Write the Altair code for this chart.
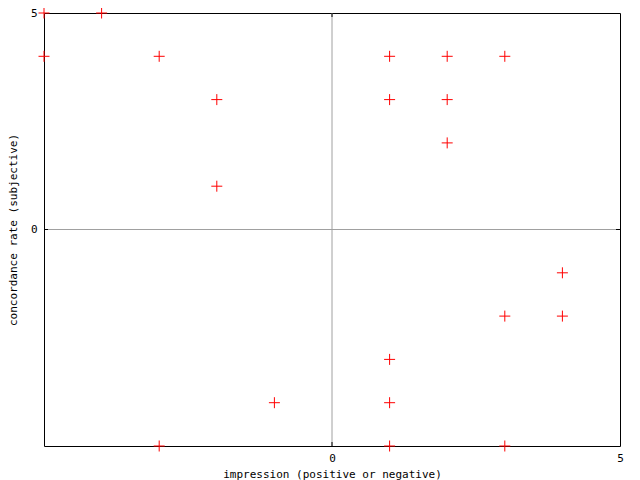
import altair as alt
import pandas as pd

xs = [-5, -4, -5, -3, -2, -2, 1, 2, 3, 1, 2, 2, 4, 3, 4, 1, 1, -1, 1, -3, 3]
ys = [5, 5, 4, 4, 3, 1, 4, 4, 4, 3, 3, 2, -1, -2, -2, -3, -4, -4, -5, -5, -5]
x_tick_labels = [0, 5]
y_tick_labels = [0, 5]

df = pd.DataFrame({"x": xs, "y": ys})
FONT = "DejaVu Sans Mono"

xscale = alt.Scale(domain=[-5, 5], nice=False, zero=False)
yscale = alt.Scale(domain=[-5, 5], nice=False, zero=False)

xaxis = alt.Axis(values=x_tick_labels, title="impression (positive or negative)",
                 format="d",
                 domain=False, grid=False, ticks=False, labelPadding=6,
                 labelFont=FONT, labelFontSize=11, labelColor="black",
                 titleFont=FONT, titleFontSize=11, titleFontWeight="normal",
                 titleColor="black", titlePadding=5, labelFlush=False)
yaxis = alt.Axis(values=y_tick_labels, title="concordance rate (subjective)",
                 format="d",
                 domain=False, grid=False, ticks=False, labelPadding=7,
                 labelFont=FONT, labelFontSize=11, labelColor="black",
                 titleFont=FONT, titleFontSize=11, titleFontWeight="normal",
                 titleColor="black", titlePadding=12, labelFlush=False)

zero_df = pd.DataFrame({"v": [0]})

vzero = alt.Chart(zero_df).mark_rule(color="#a0a0a0", strokeWidth=1).encode(
    x=alt.X("v:Q", scale=xscale, axis=xaxis))
hzero = alt.Chart(zero_df).mark_rule(color="#a0a0a0", strokeWidth=1).encode(
    y=alt.Y("v:Q", scale=yscale, axis=yaxis))

tick_b = alt.Chart(zero_df).mark_rule(color="black").encode(
    x=alt.X("v:Q", scale=xscale), y=alt.value(429), y2=alt.value(433))
tick_t = alt.Chart(zero_df).mark_rule(color="black").encode(
    x=alt.X("v:Q", scale=xscale), y=alt.value(0), y2=alt.value(4))
tick_l = alt.Chart(zero_df).mark_rule(color="black").encode(
    y=alt.Y("v:Q", scale=yscale), x=alt.value(0), x2=alt.value(4))
tick_r = alt.Chart(zero_df).mark_rule(color="black").encode(
    y=alt.Y("v:Q", scale=yscale), x=alt.value(572), x2=alt.value(576))

points = alt.Chart(df).mark_point(
    shape="M-1,0L1,0M0,-1L0,1", size=121, color="#ff0000",
    strokeWidth=1, filled=False, opacity=1
).encode(
    x=alt.X("x:Q", scale=xscale),
    y=alt.Y("y:Q", scale=yscale),
)

chart = alt.layer(vzero, hzero, tick_b, tick_t, tick_l, tick_r, points).properties(
    width=576, height=433,
    autosize=alt.AutoSizeParams(type="none"),
    padding={"left": 36, "top": 5, "right": 12, "bottom": 34},
).configure_view(stroke="black", strokeWidth=1)

chart.save("out.html", embed_options={"renderer": "svg", "actions": False})
